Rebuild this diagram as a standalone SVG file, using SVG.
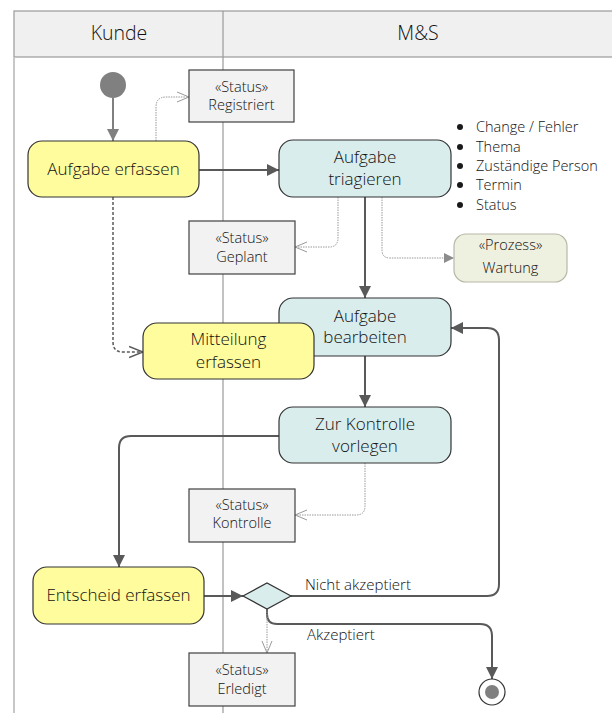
<svg xmlns="http://www.w3.org/2000/svg" width="612" height="713" viewBox="0 0 612 713">
<defs>
<marker id="fa" viewBox="0 0 12 12" refX="12" refY="6" markerWidth="12" markerHeight="12" markerUnits="userSpaceOnUse" orient="auto"><path d="M0,0 L12,6 L0,12 Z" fill="#595959"/></marker>
<marker id="fs" viewBox="0 0 12 12" refX="12" refY="6" markerWidth="12" markerHeight="12" markerUnits="userSpaceOnUse" orient="auto"><path d="M0,0 L12,6 L0,12 Z" fill="#808080"/></marker>
<marker id="fw" viewBox="0 0 10 10" refX="10" refY="5" markerWidth="10" markerHeight="10" markerUnits="userSpaceOnUse" orient="auto"><path d="M0,0 L10,5 L0,10 Z" fill="#8c8c8c"/></marker>
<marker id="oa" viewBox="0 0 12 12" refX="12" refY="6" markerWidth="12" markerHeight="12" markerUnits="userSpaceOnUse" orient="auto"><path d="M0,1 L12,6 L0,11" fill="none" stroke="#999" stroke-width="1"/></marker>
<marker id="od" viewBox="0 0 14 14" refX="14" refY="7" markerWidth="14" markerHeight="14" markerUnits="userSpaceOnUse" orient="auto"><path d="M0,1.5 L14,7 L0,12.5" fill="none" stroke="#595959" stroke-width="1.5"/></marker>
</defs>
<style>
text{font-family:"Open Sans","Noto Sans","Liberation Sans",sans-serif;font-weight:300;fill:#111;text-anchor:middle}
.hd{font-size:19.5px}
.act{font-size:17px}
.st{font-size:14.5px}
.lb{font-size:15px;text-anchor:start}
.bl{font-size:14.5px;text-anchor:start}
.yl{fill:#FFFC9E;stroke:#333;stroke-width:1.2}
.tl{fill:#DAEDED;stroke:#333;stroke-width:1.2}
.sb{fill:#F2F2F2;stroke:#404040;stroke-width:1.2}
.c{fill:none;stroke:#595959;stroke-width:2}
.d{fill:none;stroke:#999;stroke-width:1;stroke-dasharray:1.5,1}
</style>
<g id="lanes">
<rect x="14" y="11" width="610" height="46" fill="#F0F0F0" stroke="#999" stroke-width="1.2"/>
<line x1="14" y1="57" x2="14" y2="713" stroke="#c8c8c8" stroke-width="2"/>
<line x1="223" y1="11" x2="223" y2="713" stroke="#999" stroke-width="1.2"/>
<text class="hd" x="119" y="40">Kunde</text>
<text class="hd" x="418" y="40">M&amp;S</text>
</g>
<g id="connectors">
<path d="M113,98 V141" fill="none" stroke="#808080" stroke-width="2" marker-end="url(#fs)"/>
<path class="d" d="M156,141 V107 Q156,97 166,97 H189" marker-end="url(#oa)"/>
<path class="c" d="M199,170 H279" marker-end="url(#fa)"/>
<path class="d" d="M338,197 V238 Q338,247 329,247 H295" marker-end="url(#oa)"/>
<path class="d" d="M382,197 V250 Q382,258 390,258 H454" marker-end="url(#fw)"/>
<path class="c" d="M365,197 V298" marker-end="url(#fa)"/>
<path d="M113,197 V342 Q113,352 123,352 H143" fill="none" stroke="#595959" stroke-width="1.5" stroke-dasharray="3,2" marker-end="url(#od)"/>
<path class="c" d="M365,356 V407" marker-end="url(#fa)"/>
<path class="c" d="M279,436 H131 Q119,436 119,448 V567" marker-end="url(#fa)"/>
<path class="d" d="M365,463 V506 Q365,515 356,515 H295" marker-end="url(#oa)"/>
<path class="c" d="M204,596 H243" marker-end="url(#fa)"/>
<path class="c" d="M291,596 H487 Q499,596 499,584 V340 Q499,328 487,328 H451" marker-end="url(#fa)"/>
<path class="c" d="M267,609 V614 Q267,624 277,624 H480 Q492,624 492,636 V679" marker-end="url(#fa)"/>
<path class="d" d="M267,609 V653" marker-end="url(#oa)"/>
<text class="lb" x="305" y="590">Nicht akzeptiert</text>
<text class="lb" x="307" y="640">Akzeptiert</text>
</g>
<g id="start"><circle cx="113" cy="85" r="13" fill="#808080"/></g>
<g id="registriert"><rect class="sb" x="189" y="70" width="105" height="52"/><text class="st" x="241.5" y="92">«Status»</text><text class="st" x="241.5" y="110">Registriert</text></g>
<g id="aufgabe-erfassen"><rect class="yl" x="28" y="141" width="171" height="56" rx="14"/><text class="act" x="113.5" y="175">Aufgabe erfassen</text></g>
<g id="aufgabe-triagieren"><rect class="tl" x="279" y="140" width="172" height="57" rx="14"/><text class="act" x="365" y="163">Aufgabe</text><text class="act" x="365" y="185">triagieren</text></g>
<g id="attributes">
<circle cx="460" cy="127" r="3" fill="#1a1a1a"/><text class="bl" x="476" y="132">Change / Fehler</text>
<circle cx="460" cy="147" r="3" fill="#1a1a1a"/><text class="bl" x="476" y="152">Thema</text>
<circle cx="460" cy="166" r="3" fill="#1a1a1a"/><text class="bl" x="476" y="171">Zuständige Person</text>
<circle cx="460" cy="185" r="3" fill="#1a1a1a"/><text class="bl" x="476" y="190">Termin</text>
<circle cx="460" cy="205" r="3" fill="#1a1a1a"/><text class="bl" x="476" y="210">Status</text>
</g>
<g id="geplant"><rect class="sb" x="189" y="221" width="106" height="53"/><text class="st" x="242" y="243">«Status»</text><text class="st" x="242" y="262">Geplant</text></g>
<g id="wartung"><rect x="454" y="234" width="113" height="48" rx="12" fill="#EEF0E0" stroke="#B8B8A8" stroke-width="1.2"/><text class="st" x="510.5" y="250">«Prozess»</text><text class="st" x="510.5" y="273">Wartung</text></g>
<g id="aufgabe-bearbeiten"><rect class="tl" x="279" y="298" width="172" height="58" rx="14"/><text class="act" x="365" y="322">Aufgabe</text><text class="act" x="365" y="343">bearbeiten</text></g>
<g id="mitteilung-erfassen"><rect class="yl" x="143" y="323" width="171" height="56" rx="14"/><text class="act" x="228.5" y="345">Mitteilung</text><text class="act" x="228.5" y="368">erfassen</text></g>
<g id="zur-kontrolle"><rect class="tl" x="279" y="407" width="172" height="56" rx="14"/><text class="act" x="365" y="430">Zur Kontrolle</text><text class="act" x="365" y="452">vorlegen</text></g>
<g id="kontrolle"><rect class="sb" x="189" y="489" width="106" height="53"/><text class="st" x="242" y="510">«Status»</text><text class="st" x="242" y="528">Kontrolle</text></g>
<g id="entscheid-erfassen"><rect class="yl" x="33" y="567" width="171" height="57" rx="14"/><text class="act" x="118.5" y="601">Entscheid erfassen</text></g>
<g id="decision"><path d="M243,596 L267,583 L291,596 L267,609 Z" fill="#DAEDED" stroke="#333" stroke-width="1.2"/></g>
<g id="erledigt"><rect class="sb" x="189" y="653" width="106" height="53"/><text class="st" x="242" y="675">«Status»</text><text class="st" x="242" y="694">Erledigt</text></g>
<g id="end"><circle cx="492" cy="692" r="13" fill="#fff" stroke="#333" stroke-width="1.2"/><circle cx="492" cy="692" r="7" fill="#808080"/></g>
</svg>
